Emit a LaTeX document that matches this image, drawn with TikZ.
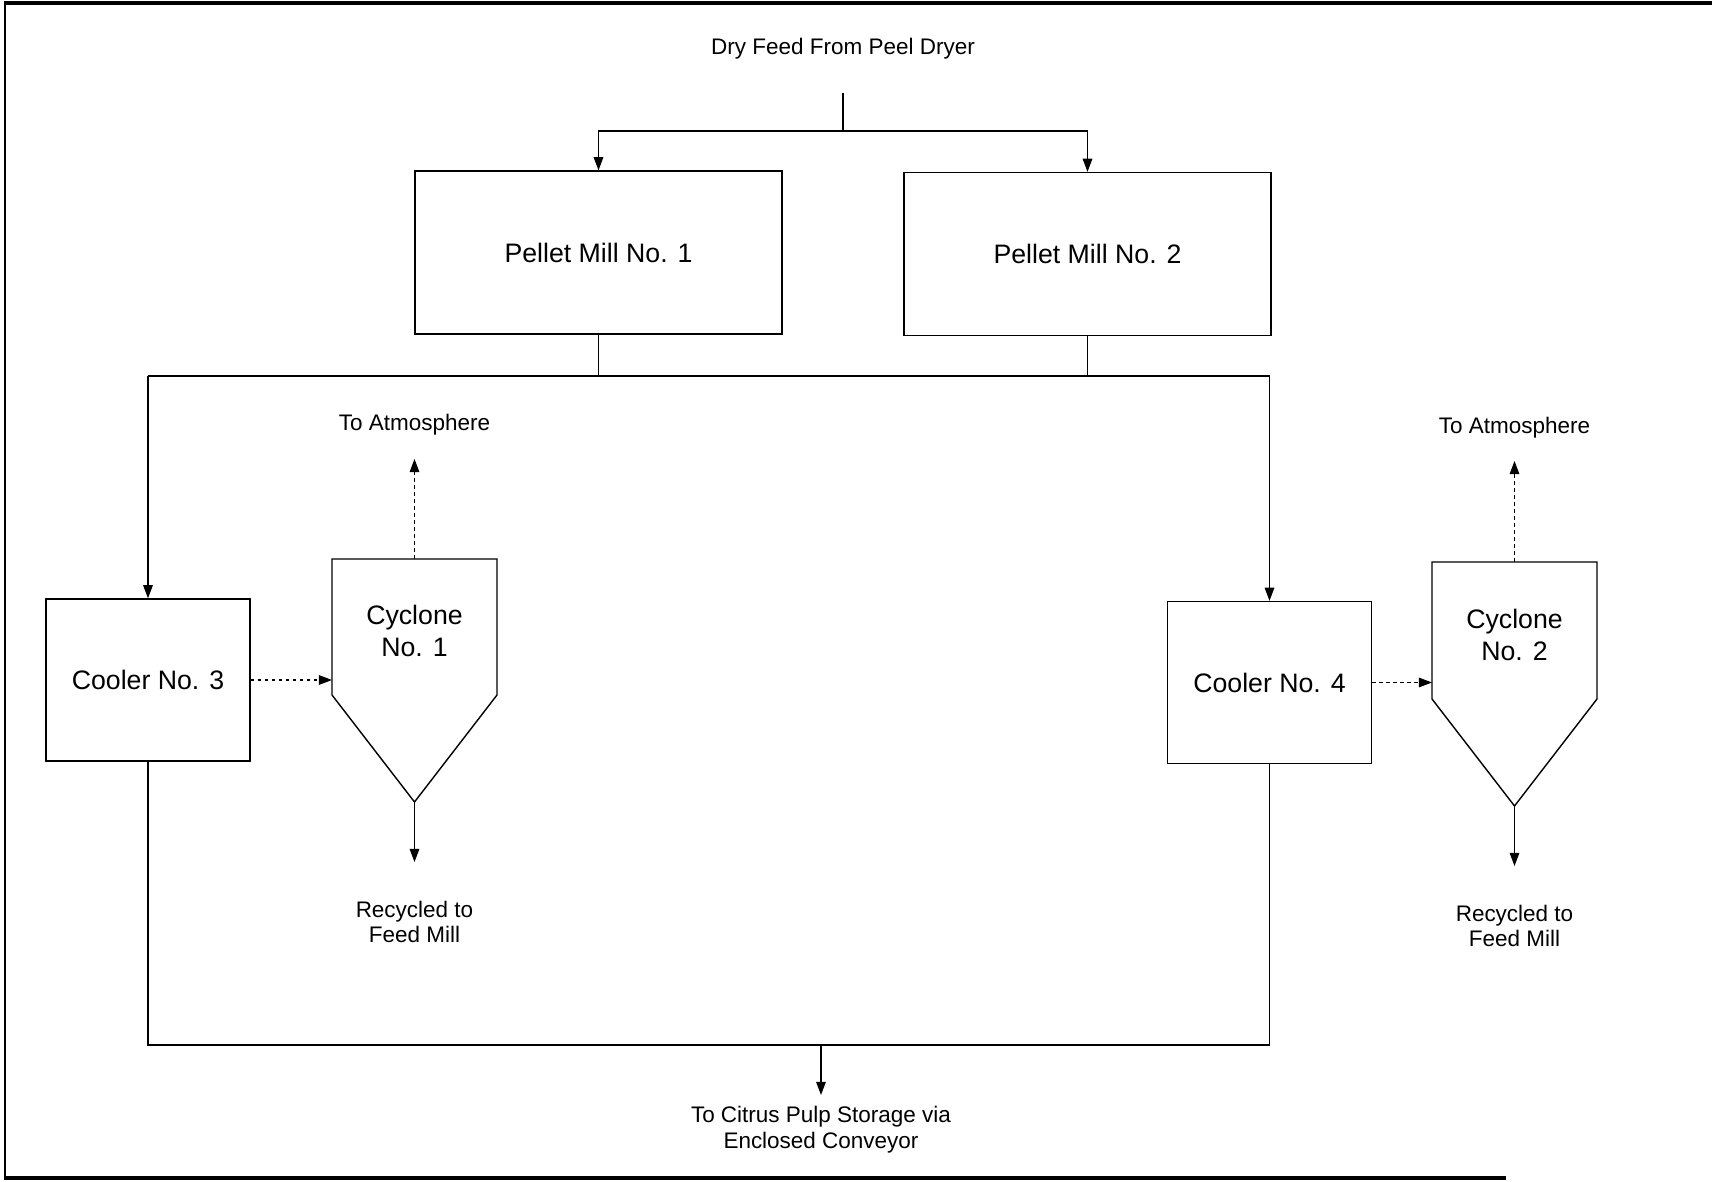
\documentclass[tikz,border=0pt]{standalone}
\usepackage{fontspec}
\setmainfont{Liberation Sans}
\usetikzlibrary{arrows.meta}
\tikzset{
  unittxt/.style={align=center,font=\fontsize{15.2}{18.6}\selectfont},
  unitbox/.style={unittxt,draw,line width=0.8pt},
  millbox/.style={unitbox,minimum width=7.34cm,minimum height=3.26cm},
  coolbox/.style={unitbox,minimum width=4.08cm,minimum height=3.24cm},
  lbl/.style={align=center,font=\fontsize{12.8}{14.7}\selectfont},
  airflow/.style={dash pattern=on 2pt off 2pt},
}
\begin{document}
\begin{tikzpicture}[x=0.02cm,y=-0.02cm,->,>={Triangle[length=7.5pt,width=5.5pt]},line width=0.6pt]
  \useasboundingbox (0,0) rectangle (1712,1182);
  % frame
  \draw[-,line width=1.2pt] (5,3) -- (5,1178);
  \draw[-,line width=2.5pt] (4,3) -- (1712,3);
  \draw[-,line width=2.2pt] (4,1178) -- (1506,1178);

  % feed and pellet mills
  \node[lbl] (feed) at (843,49) {Dry Feed From Peel Dryer};
  \node[millbox] (pm1) at (598.5,252.5) {Pellet Mill No. 1};
  \node[millbox] (pm2) at (1087.5,254) {Pellet Mill No. 2};
  \coordinate (feedin) at (843,93);
  \coordinate (split) at (843,131);
  \draw[-] (feedin) -- (split);
  \draw (split) -| (pm1);
  \draw (split) -| (pm2);

  % coolers
  \node[coolbox] (cool3) at (148,680) {Cooler No. 3};
  \node[coolbox] (cool4) at (1269.5,682.5) {Cooler No. 4};
  \coordinate (busL) at (148,376);
  \coordinate (busR) at (1269.5,376);
  \draw[-] (busL) -- (busR);
  \draw[-] (pm1) -- (pm1 |- busL);
  \draw[-] (pm2) -- (pm2 |- busR);
  \draw (busL) -- (cool3);
  \draw (busR) -- (cool4);

  % cyclone 1
  \coordinate (cyc1top) at (414.5,559);
  \coordinate (cyc1in) at (332,680);
  \coordinate (cyc1out) at (414.5,802);
  \draw[-,line width=0.8pt] (332,559) -- (497,559) -- (497,695) -- (cyc1out) -- (332,695) -- cycle;
  \node[unittxt] (cyc1) at (414.5,631) {Cyclone\\No. 1};
  \draw[airflow] (cool3.east) -- (cyc1in);
  \coordinate (atm1) at (414.5,459);
  \node[lbl] (atm1txt) at (414.5,425) {To Atmosphere};
  \draw[airflow] (cyc1top) -- (atm1);
  \coordinate (rec1) at (414.5,862);
  \node[lbl] (rec1txt) at (414.5,922) {Recycled to\\Feed Mill};
  \draw (cyc1out) -- (rec1);

  % cyclone 2
  \coordinate (cyc2top) at (1514.5,562);
  \coordinate (cyc2in) at (1432,682.5);
  \coordinate (cyc2out) at (1514.5,806);
  \draw[-,line width=0.8pt] (1432,562) -- (1597,562) -- (1597,699) -- (cyc2out) -- (1432,699) -- cycle;
  \node[unittxt] (cyc2) at (1514.5,635) {Cyclone\\No. 2};
  \draw[airflow] (cool4.east) -- (cyc2in);
  \coordinate (atm2) at (1514.5,461);
  \node[lbl] (atm2txt) at (1514.5,428) {To Atmosphere};
  \draw[airflow] (cyc2top) -- (atm2);
  \coordinate (rec2) at (1514.5,866);
  \node[lbl] (rec2txt) at (1514.5,926) {Recycled to\\Feed Mill};
  \draw (cyc2out) -- (rec2);

  % conveyor
  \coordinate (conv) at (821,1045);
  \draw[-] (cool3) |- (conv) -| (cool4);
  \coordinate (convend) at (821,1095);
  \draw (conv) -- (convend);
  \node[lbl] (store) at (821,1130) {To Citrus Pulp Storage via\\Enclosed Conveyor};
\end{tikzpicture}
\end{document}
